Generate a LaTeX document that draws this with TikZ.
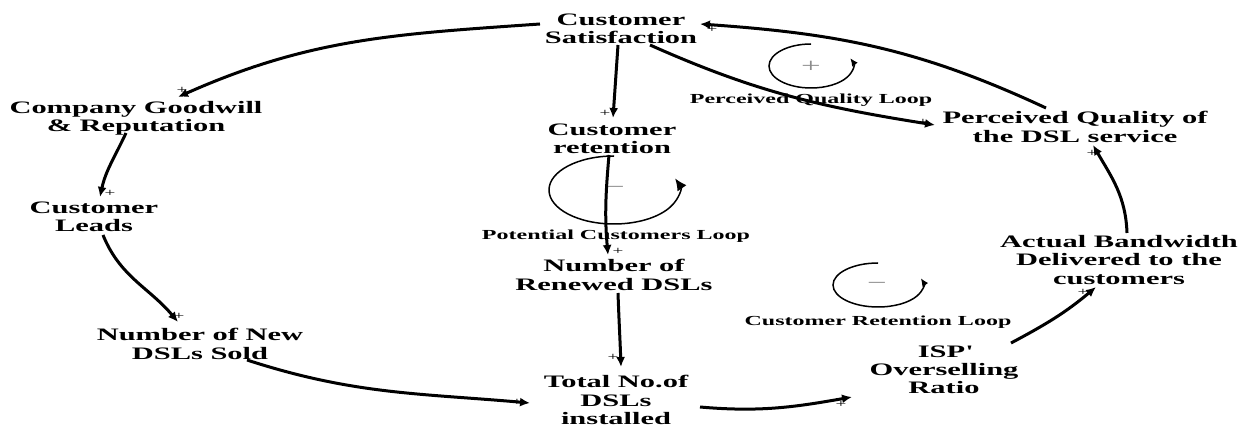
\documentclass[tikz,border=0pt]{standalone}
\usepackage{fontspec}
\setmainfont{Liberation Serif}[FakeStretch=1.74]
\usetikzlibrary{arrows.meta}
\tikzset{
  var/.style={font=\fontsize{17.5}{18.2}\selectfont\bfseries, align=center, inner sep=0pt},
  looplbl/.style={font=\fontsize{13.8}{14}\selectfont\bfseries, inner sep=0pt},
  pol/.style={font=\fontsize{11}{11}\selectfont, inner sep=0pt},
  sign/.style={font=\fontsize{20}{20}\selectfont, text=black!45, inner sep=0pt},
  link/.style={line width=3pt, -{Latex[length=10pt,width=9pt]}},
  loopar/.style={line width=1.5pt, -{Latex[length=8pt,width=7pt]}},
  bigloopar/.style={line width=1.5pt, -{Latex[length=12pt,width=11pt]}},
}
\begin{document}
\begin{tikzpicture}[x=1pt,y=1pt]
\useasboundingbox (0,0) rectangle (1252,-427);
% variables
\node[var] (sat)    at (621,-29)  {Customer\\Satisfaction};
\node[var] (cg)     at (136,-118) {Company Goodwill\\\& Reputation};
\node[var] (leads)  at (94,-217)  {Customer\\Leads};
\node[var] (newdsl) at (200,-344) {Number of New\\DSLs Sold};
\node[var] (ret)    at (612,-139) {Customer\\retention};
\node[var] (renew)  at (614,-275) {Number of\\Renewed DSLs};
\node[var] (total)  at (616,-400) {Total No.of\\DSLs\\installed};
\node[var] (isp)    at (944,-370) {ISP\textquotesingle\\Overselling\\Ratio};
\node[var] (bw)     at (1119,-260) {Actual Bandwidth\\Delivered to the\\customers};
\node[var] (pq)     at (1075,-127) {Perceived Quality of\\the DSL service};
% loop labels
\node[looplbl] (lpq) at (811,-100) {Perceived Quality Loop};
\node[looplbl] (lpc) at (616,-236) {Potential Customers Loop};
\node[looplbl] (lcr) at (878,-322) {Customer Retention Loop};
% loop symbols
\draw[loopar] (811,-44) arc[start angle=90, end angle=381, x radius=42, y radius=22];
\node[sign] (spq) at (811,-67) {+};
\draw[bigloopar] (614,-156) arc[start angle=90, end angle=380, x radius=65, y radius=34];
\node[sign] (spc) at (615,-190) {−};
\draw[loopar] (878,-263) arc[start angle=90, end angle=378, x radius=45, y radius=22];
\node[sign] (scr) at (877,-286) {−};
% links
\draw[link] ([shift={(-81,5)}]sat.center) to[out=184,in=24] ([shift={(42,21)}]cg.center);
\draw[link] ([shift={(-10,-15)}]cg.center) to[out=245,in=78] ([shift={(6,20)}]leads.center);
\draw[link] ([shift={(9,-18)}]leads.center) to[out=-68,in=130] ([shift={(-22,22)}]newdsl.center);
\draw[link] ([shift={(47,-16)}]newdsl.center) to[out=-18,in=175] ([shift={(-86,-3)}]total.center);
\draw[link] ([shift={(84,-7)}]total.center) to[out=-5,in=190] ([shift={(-92,-27)}]isp.center);
\draw[link] ([shift={(67,27)}]isp.center) to[out=28,in=220] ([shift={(-23,-27)}]bw.center);
\draw[link] ([shift={(8,27)}]bw.center) to[out=92,in=-60] ([shift={(18,-18)}]pq.center);
\draw[link] ([shift={(-29,19)}]pq.center) to[out=155,in=-4] ([shift={(79,5)}]sat.center);
\draw[link] ([shift={(29,-16)}]sat.center) to[out=-24,in=171] ([shift={(-140,2)}]pq.center);
\draw[link] ([shift={(-3,-16)}]sat.center) -- ([shift={(1,21)}]ret.center);
\draw[link] ([shift={(-3,-16)}]ret.center) to[out=-95,in=95] ([shift={(-6,20)}]renew.center);
\draw[link] ([shift={(4,-18)}]renew.center) to[out=-88,in=92] ([shift={(5,33)}]total.center);
% polarities
\node[pol] (p1)  at (182,-90)  {+};
\node[pol] (p2)  at (110,-193) {+};
\node[pol] (p3)  at (179,-316) {+};
\node[pol] (p4)  at (517,-402) {+};
\node[pol] (p5)  at (841,-404) {+};
\node[pol] (p6)  at (1083,-292) {+};
\node[pol] (p7)  at (1092,-153) {+};
\node[pol] (p8)  at (712,-29)  {+};
\node[pol] (p9)  at (923,-122) {+};
\node[pol] (p10) at (605,-113) {+};
\node[pol] (p11) at (618,-251) {+};
\node[pol] (p12) at (613,-357) {+};
\end{tikzpicture}
\end{document}
